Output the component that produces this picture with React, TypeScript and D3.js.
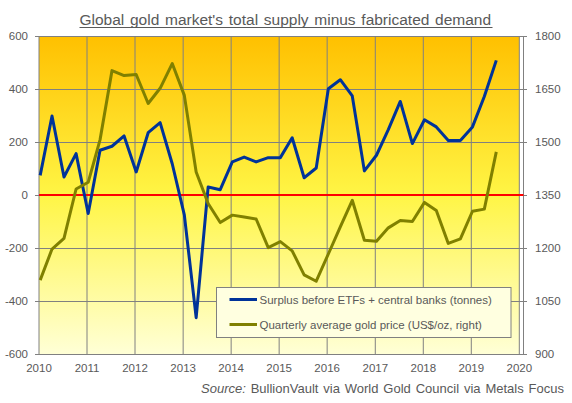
import React, { useEffect, useRef } from "react";
import * as d3 from "d3";

// Quarterly data, 2010 Q1 .. 2019 Q3
const quarters = [
  "2010Q1","2010Q2","2010Q3","2010Q4",
  "2011Q1","2011Q2","2011Q3","2011Q4",
  "2012Q1","2012Q2","2012Q3","2012Q4",
  "2013Q1","2013Q2","2013Q3","2013Q4",
  "2014Q1","2014Q2","2014Q3","2014Q4",
  "2015Q1","2015Q2","2015Q3","2015Q4",
  "2016Q1","2016Q2","2016Q3","2016Q4",
  "2017Q1","2017Q2","2017Q3","2017Q4",
  "2018Q1","2018Q2","2018Q3","2018Q4",
  "2019Q1","2019Q2","2019Q3",
];
const surplus = [
  74, 298, 68, 156,
  -70, 169, 184, 223,
  87, 235, 273, 118,
  -75, -463, 30, 20,
  125, 143, 125, 141,
  141, 216, 65, 102,
  401, 435, 374, 91,
  150, 247, 353, 194,
  284, 257, 206, 206,
  257, 372, 508,
];
const goldPrice = [
  1109, 1197, 1227, 1367,
  1386, 1506, 1702, 1688,
  1691, 1609, 1652, 1722,
  1632, 1415, 1326, 1272,
  1293, 1288, 1282, 1201,
  1218, 1192, 1124, 1106,
  1183, 1260, 1335, 1222,
  1219, 1257, 1278, 1275,
  1329, 1306, 1213, 1226,
  1304, 1310, 1472,
];
const xTickYears = [2010, 2011, 2012, 2013, 2014, 2015, 2016, 2017, 2018, 2019, 2020];
const leftTicks = [-600, -400, -200, 0, 200, 400, 600];
const rightTicks = [900, 1050, 1200, 1350, 1500, 1650, 1800];
const seriesNames = [
  "Surplus before ETFs + central banks (tonnes)",
  "Quarterly average gold price (US$/oz, right)",
];
const titleText = "Global gold market's total supply minus fabricated demand";
const sourceLabel = "Source:";
const sourceText = " BullionVault via World Gold Council via Metals Focus";

const W = 572;
const H = 403;
const FONT = "'Liberation Sans', Arial, sans-serif";
const TXT = "#595959";
const GRID = "#808080";
const BLUE = "#003399";
const OLIVE = "#808000";

function qDate(q: string) {
  const y = +q.slice(0, 4);
  const n = +q.slice(5);
  return new Date(y, (n - 1) * 3, 10);
}

function fitWords(el: SVGTextElement | null, target: number, gaps: number) {
  if (!el) return;
  el.setAttribute("word-spacing", "0");
  const len = el.getComputedTextLength();
  const ws = (target - len) / gaps;
  el.setAttribute("word-spacing", String(Math.max(0, ws)));
}

export default function App() {
  const titleRef = useRef<SVGTextElement>(null);
  const srcRef = useRef<SVGTextElement>(null);
  useEffect(() => {
    fitWords(titleRef.current, 413, 8);
    fitWords(srcRef.current, 363, 8);
  }, []);

  const left = 39, right = 519.3, axisR = 523.5, top = 36, bottom = 354;
  const x = d3.scaleTime()
    .domain([new Date(2010, 0, 1), new Date(2020, 0, 1)])
    .range([left, right]);
  const yL = d3.scaleLinear().domain([-600, 600]).range([bottom, top]);
  const yR = d3.scaleLinear().domain([900, 1800]).range([bottom, top]);

  const blueLine = d3.line<number>()
    .x((_, i) => x(qDate(quarters[i])))
    .y((d) => yL(d));
  const goldLine = d3.line<number>()
    .x((_, i) => x(qDate(quarters[i])))
    .y((d) => yR(d));

  const legX = 216.5, legY = 287.5, legW = 294.5, legH = 50;

  return (
    <svg width={W} height={H} style={{ position: "absolute", left: 0, top: 0, background: "#fff" }} fontFamily={FONT}>
      <defs>
        <linearGradient id="bg" x1="0" y1="0" x2="0" y2="1">
          <stop offset="0%" stopColor="#FFC000" />
          <stop offset="50%" stopColor="#FFF545" />
          <stop offset="100%" stopColor="#FFFFD6" />
        </linearGradient>
      </defs>
      {/* title */}
      <text ref={titleRef} x={79.5} y={24.5} fontSize={15.5} fill={TXT}>{titleText}</text>
      <line x1={79.5} x2={492.5} y1={27.5} y2={27.5} stroke={TXT} strokeWidth={1} />

      {/* plot background */}
      <rect x={left} y={top} width={right - left} height={bottom - top} fill="url(#bg)" />

      {/* horizontal gridlines + ticks */}
      {leftTicks.map((t) => (
        <line key={"h" + t} x1={35} x2={axisR + 3.5} y1={Math.round(yL(t)) + 0.5} y2={Math.round(yL(t)) + 0.5} stroke={GRID} strokeWidth={1} />
      ))}
      {/* vertical gridlines */}
      {xTickYears.map((yr) => (
        <line key={"v" + yr} x1={x(new Date(yr, 0, 1))} x2={x(new Date(yr, 0, 1))} y1={top} y2={bottom} stroke={GRID} strokeWidth={1} />
      ))}
      {/* right axis line */}
      <line x1={axisR} x2={axisR} y1={top} y2={bottom + 0.5} stroke={GRID} strokeWidth={1} />

      {/* zero line */}
      <line x1={left} x2={axisR} y1={yL(0)} y2={yL(0)} stroke="#FF0000" strokeWidth={2} />

      {/* series */}
      <path d={blueLine(surplus) || ""} fill="none" stroke={BLUE} strokeWidth={3} strokeLinejoin="round" />
      <path d={goldLine(goldPrice) || ""} fill="none" stroke={OLIVE} strokeWidth={3} strokeLinejoin="round" />

      {/* left tick labels */}
      {leftTicks.map((t) => (
        <text key={"lt" + t} x={28} y={yL(t) + 4} fontSize={11.5} fill={TXT} textAnchor="end">{t}</text>
      ))}
      {/* right tick labels */}
      {rightTicks.map((t) => (
        <text key={"rt" + t} x={535} y={yR(t) + 4} fontSize={11.5} fill={TXT} textAnchor="start">{t}</text>
      ))}
      {/* x tick labels */}
      {xTickYears.map((yr) => (
        <text key={"xt" + yr} x={x(new Date(yr, 0, 1))} y={372} fontSize={11.5} fill={TXT} textAnchor="middle">{yr}</text>
      ))}

      {/* legend */}
      <rect x={legX} y={legY} width={legW} height={legH} fill="#FFFFE0" stroke={GRID} strokeWidth={1} />
      <line x1={229.5} x2={257} y1={299.5} y2={299.5} stroke={BLUE} strokeWidth={3} />
      <text x={259.5} y={303.5} fontSize={11.5} fill={TXT}>{seriesNames[0]}</text>
      <line x1={229.5} x2={257} y1={324.5} y2={324.5} stroke={OLIVE} strokeWidth={3} />
      <text x={259.5} y={328.5} fontSize={11.5} fill={TXT}>{seriesNames[1]}</text>

      {/* source */}
      <text ref={srcRef} x={201} y={393} fontSize={13} fill={TXT}>
        <tspan fontStyle="italic">{sourceLabel}</tspan>{sourceText}
      </text>
    </svg>
  );
}
